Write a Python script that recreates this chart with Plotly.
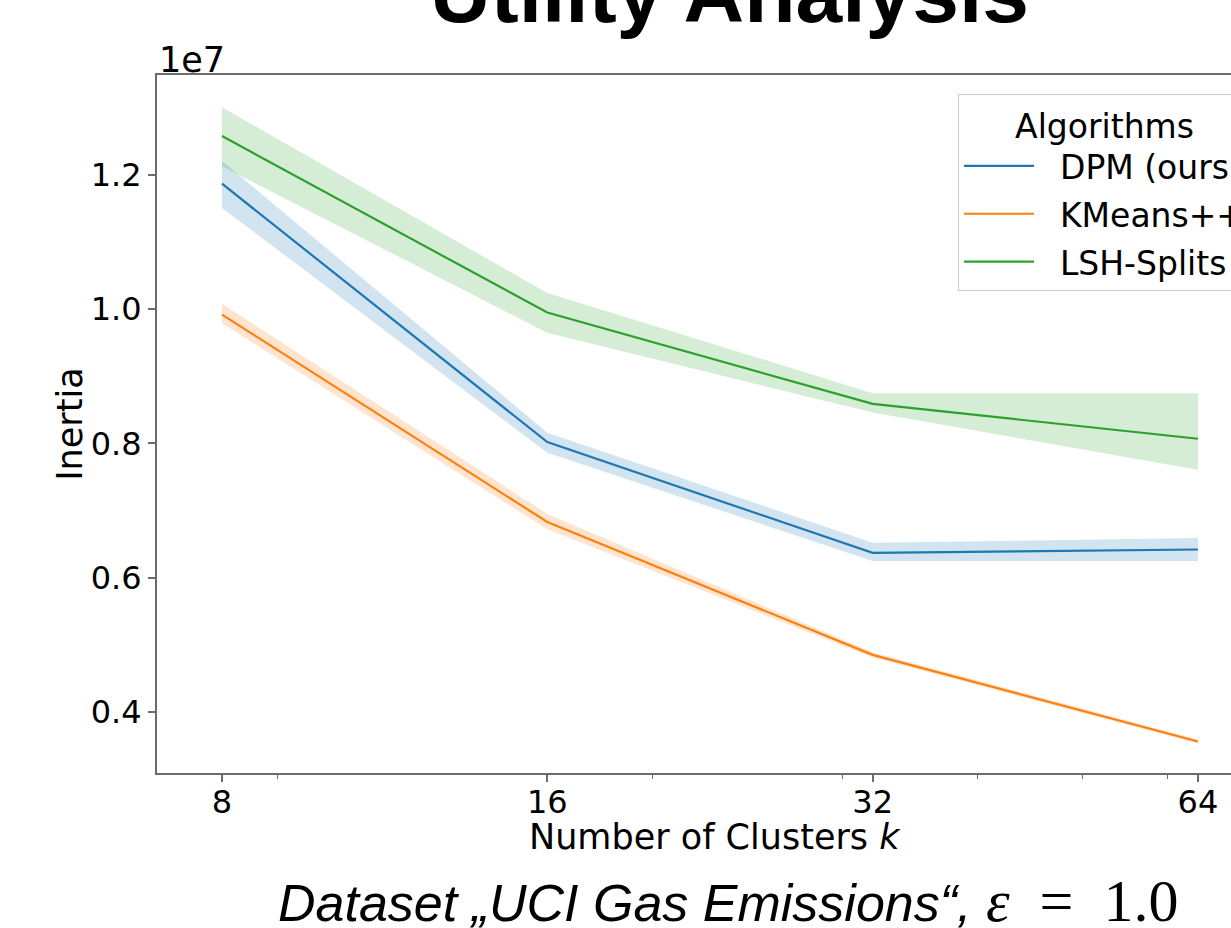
import plotly.graph_objects as go

# ---------------- data (inertia in units of 1e7) ----------------
k_values = [8, 16, 32, 64]
algorithms = ["DPM (ours)", "KMeans++", "LSH-Splits"]

dpm_mean = [1.187, 0.802, 0.637, 0.642]
dpm_low = [1.151, 0.786, 0.625, 0.625]
dpm_high = [1.221, 0.816, 0.652, 0.659]

kmeans_mean = [0.992, 0.683, 0.485, 0.356]
kmeans_low = [0.979, 0.672, 0.481, 0.353]
kmeans_high = [1.008, 0.695, 0.489, 0.359]

lsh_mean = [1.258, 0.995, 0.859, 0.807]
lsh_low = [1.213, 0.965, 0.846, 0.761]
lsh_high = [1.301, 1.024, 0.875, 0.875]

x_tick_vals = [8, 16, 32, 64]
x_tick_text = ["8", "16", "32", "64"]
x_minor_vals = [9, 20, 30, 40, 50, 60]
y_tick_vals = [0.4, 0.6, 0.8, 1.0, 1.2]
y_tick_text = ["0.4", "0.6", "0.8", "1.0", "1.2"]

colors = ["#1f77b4", "#ff7f0e", "#2ca02c"]
bands = ["rgba(31,119,180,0.2)", "rgba(255,127,14,0.2)", "rgba(44,160,44,0.2)"]

series = [
    (dpm_mean, dpm_low, dpm_high),
    (kmeans_mean, kmeans_low, kmeans_high),
    (lsh_mean, lsh_low, lsh_high),
]

fig = go.Figure()

# confidence bands first
for i, (m, lo, hi) in enumerate(series):
    fig.add_trace(go.Scatter(x=k_values, y=hi, mode="lines", line=dict(width=0),
                             showlegend=False, hoverinfo="skip"))
    fig.add_trace(go.Scatter(x=k_values, y=lo, mode="lines", line=dict(width=0),
                             fill="tonexty", fillcolor=bands[i],
                             showlegend=False, hoverinfo="skip"))

# mean lines
NB = "\u00a0\u00a0"
for i, (m, lo, hi) in enumerate(series):
    fig.add_trace(go.Scatter(x=k_values, y=m, mode="lines", name=NB + algorithms[i],
                             legendgroup=algorithms[i],
                             line=dict(color=colors[i], width=2.2)))

AX = "#6b6b6b"
FONT = "DejaVu Sans"
SP = "\u2002"

fig.update_layout(
    width=1231, height=928,
    margin=dict(l=157, r=0, t=75, b=155, pad=0, autoexpand=False),
    paper_bgcolor="white", plot_bgcolor="white",
    font=dict(family=FONT, size=32, color="black"),
    showlegend=True,
    legend=dict(
        x=0.7458, y=0.9728, xanchor="left", yanchor="top",
        traceorder="grouped", tracegroupgap=2,
        bgcolor="rgba(255,255,255,0.85)", bordercolor="#cccccc", borderwidth=1,
        font=dict(family=FONT, size=33, color="black"),
        title=dict(text="Algorithms", side="top center",
                   font=dict(family=FONT, size=33, color="black")),
        itemwidth=70,
    ),
    xaxis=dict(
        type="log", range=[0.84295, 1.83675],
        tickmode="array", tickvals=x_tick_vals, ticktext=x_tick_text,
        ticks="outside", ticklen=7, tickwidth=1.5, tickcolor=AX,
        ticklabelstandoff=-7,
        minor=dict(tickmode="array", tickvals=x_minor_vals, ticks="outside",
                   ticklen=4, tickwidth=1, tickcolor=AX, showgrid=False),
        showline=True, linecolor=AX, linewidth=2, mirror=True,
        showgrid=False, zeroline=False,
        tickfont=dict(family=FONT, size=32, color="black"),
    ),
    yaxis=dict(
        range=[0.309, 1.349],
        tickmode="array", tickvals=y_tick_vals, ticktext=y_tick_text,
        ticks="outside", ticklen=7, tickwidth=1.5, tickcolor=AX,
        showline=True, linecolor=AX, linewidth=2, mirror=False,
        showgrid=False, zeroline=False,
        tickfont=dict(family=FONT, size=32, color="black"),
    ),
    annotations=[
        # axis titles
        dict(text="Number of Clusters <i>k</i>", xref="paper", yref="paper",
             x=0.5196, y=-0.092, xanchor="center", yanchor="middle", showarrow=False,
             font=dict(family=FONT, size=35, color="black")),
        dict(text="Inertia", xref="paper", yref="paper", textangle=-90,
             x=(70 - 157) / 1074, y=0.499, xanchor="center", yanchor="middle",
             showarrow=False, font=dict(family=FONT, size=35, color="black")),
        # offset text
        dict(text="1e7", xref="paper", yref="paper", x=0, y=1.0215,
             xanchor="left", yanchor="middle", showarrow=False,
             font=dict(family=FONT, size=35, color="black")),
        # slide title (cut off at top, as in the reference)
        dict(text="<b>Utility Analysis</b>", xref="paper", yref="paper",
             x=0.5335, y=1.1175, xanchor="center", yanchor="middle", showarrow=False,
             font=dict(family="Liberation Sans", size=84, color="black")),
        # caption
        dict(text="<i>Dataset „UCI Gas Emissions“, </i>"
                  "<span style=\"font-family:'Liberation Serif';font-size:60px\"><i>ε</i>"
                  + SP + "=" + SP + "1.0</span>",
             xref="paper", yref="paper", x=0.5317, y=-0.183,
             xanchor="center", yanchor="middle", showarrow=False,
             font=dict(family="Liberation Sans", size=52, color="black")),
    ],
)

fig.write_html("out.html")
